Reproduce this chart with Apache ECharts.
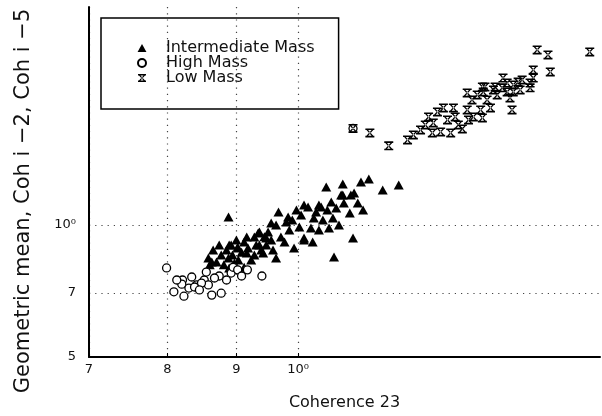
<!DOCTYPE html>
<html>
<head>
<meta charset="utf-8">
<script src="https://cdn.jsdelivr.net/npm/echarts@6/dist/echarts.min.js"></script>
<style>
  html, body { margin: 0; padding: 0; background: #fff; }
  #chart { width: 602px; height: 416px; }
</style>
</head>
<body>
<div id="chart"></div>
<script>
// values, both axes logarithmic
const xTicks = [0.7, 0.8, 0.9, 1.0]
const xTickLabels = ['7', '8', '9', '10⁰']
const yTicks = [0.5, 0.7, 1.0]
const yTickLabels = ['5', '7', '10⁰']
const xRange = [0.7, 1.673]
const yRange = [0.5, 3.14]

const intermediateMass = [
  [0.888, 1.043], [0.858, 0.841], [0.860, 0.811], [0.888, 0.841], [0.892, 0.900],
  [0.902, 0.891], [0.912, 0.914], [0.916, 0.863], [0.923, 0.832], [0.934, 0.959],
  [0.944, 0.940], [0.955, 1.010], [0.967, 1.071], [0.983, 1.043], [0.997, 1.082],
  [1.010, 1.111], [1.017, 1.099], [1.036, 1.111], [1.049, 1.221], [1.079, 1.240],
  [1.113, 1.253], [1.128, 1.273], [1.155, 1.202], [1.187, 1.234], [1.100, 1.183],
  [1.079, 1.171], [1.058, 1.128], [1.107, 1.122], [1.117, 1.082], [1.081, 1.122],
  [1.061, 1.037], [1.043, 1.026], [1.027, 1.037], [1.022, 0.984], [1.002, 0.990],
  [0.985, 0.974], [0.971, 0.939], [0.955, 0.924], [0.928, 0.939], [0.950, 0.964],
  [0.936, 0.964], [0.889, 0.900], [0.902, 0.886], [1.098, 0.934], [1.063, 0.845],
  [1.025, 0.915], [1.010, 0.934], [0.993, 0.886], [0.958, 0.877], [0.942, 0.863],
  [1.076, 1.171], [1.094, 1.171], [1.040, 1.099], [1.010, 0.924], [0.939, 0.877],
  [0.897, 0.819], [0.912, 0.801], [0.903, 0.832], [0.980, 1.016], [0.990, 1.026],
  [1.005, 1.054], [1.031, 1.071], [1.051, 1.082], [1.067, 1.093], [1.092, 1.065],
  [1.072, 1.000], [1.054, 0.984], [1.036, 0.974], [0.963, 1.000], [0.947, 0.900],
  [0.977, 0.914], [0.963, 0.841], [0.931, 0.900], [0.877, 0.854], [0.870, 0.823],
  [0.881, 0.811], [0.865, 0.877], [0.874, 0.900], [0.885, 0.877], [0.894, 0.854],
  [0.908, 0.866], [0.918, 0.886], [0.928, 0.854], [0.936, 0.900], [0.947, 0.934],
  [0.916, 0.939], [0.900, 0.924], [0.863, 0.823], [0.889, 0.798]
]

const highMass = [
  [0.799, 0.798], [0.821, 0.749], [0.834, 0.761], [0.820, 0.733], [0.809, 0.704],
  [0.823, 0.688], [0.830, 0.718], [0.841, 0.730], [0.852, 0.749], [0.855, 0.781],
  [0.858, 0.730], [0.863, 0.692], [0.877, 0.699], [0.874, 0.765], [0.885, 0.749],
  [0.892, 0.777], [0.895, 0.801], [0.902, 0.790], [0.917, 0.790], [0.940, 0.765],
  [0.848, 0.737], [0.838, 0.722], [0.813, 0.749], [0.867, 0.757], [0.845, 0.711],
  [0.908, 0.765], [1.098, 1.660]
]

const lowMass = [
  [1.098, 1.660], [1.130, 1.621], [1.167, 1.515], [1.205, 1.563], [1.217, 1.604],
  [1.257, 1.621], [1.275, 1.630], [1.297, 1.621], [1.323, 1.656], [1.259, 1.709],
  [1.249, 1.763], [1.268, 1.810], [1.281, 1.849], [1.303, 1.849], [1.307, 1.763],
  [1.290, 1.736], [1.334, 1.829], [1.337, 1.736], [1.348, 1.763], [1.369, 1.754],
  [1.365, 1.829], [1.334, 2.000], [1.345, 1.928], [1.357, 1.979], [1.371, 2.010],
  [1.375, 2.064], [1.380, 1.928], [1.388, 1.849], [1.404, 1.979], [1.399, 2.064],
  [1.418, 2.163], [1.416, 2.054], [1.428, 2.010], [1.435, 1.948], [1.440, 1.829],
  [1.443, 2.086], [1.455, 2.118], [1.465, 2.141], [1.460, 2.032], [1.443, 2.010],
  [1.485, 2.107], [1.485, 2.054], [1.493, 2.257], [1.493, 2.163], [1.503, 2.506],
  [1.531, 2.442], [1.537, 2.233], [1.644, 2.480], [1.369, 2.064], [1.395, 2.032],
  [1.428, 2.107], [1.242, 1.691], [1.232, 1.647], [1.314, 1.691]
]

const log = (v) => Math.log10(v)
const toLog = (pts) => pts.map((p) => [log(p[0]), log(p[1])])
const tickLabel = (ticks, labels) => (value) => {
  let best = 0
  ticks.forEach((t, i) => {
    if (Math.abs(log(t) - value) < Math.abs(log(ticks[best]) - value)) best = i
  })
  return labels[best]
}

// path symbols keep their aspect inside the legend slot
const trianglePath = 'path://M5 0L10 9H0Z'
// x with bars top and bottom, like the old plotter symbol
const starPath = 'path://M0 0H10V1.8H0Z M0 8.2H10V10H0Z M1.2 1.8L3.1 1.8L8.8 8.2L6.9 8.2Z M8.8 1.8L6.9 1.8L1.2 8.2L3.1 8.2Z'

const font = 'DejaVu Sans'
const gridLine = { show: true, lineStyle: { color: '#444', width: 1.2, type: [1.2, 5] } }

const chart = echarts.init(document.getElementById('chart'))
chart.setOption({
  backgroundColor: '#fff',
  animation: false,
  grid: { left: 89, right: 2, top: 7, bottom: 59 },
  legend: {
    orient: 'vertical',
    left: 101,
    top: 18,
    padding: [22, 24, 23, 36],
    itemWidth: 38,
    itemHeight: 8,
    itemGap: -1,
    borderColor: '#000',
    borderWidth: 1.5,
    selectedMode: false,
    textStyle: { fontFamily: font, fontSize: 16, color: '#111', lineHeight: 14 },
    data: ['Intermediate Mass', 'High Mass', 'Low Mass']
  },
  xAxis: {
    type: 'value',
    min: log(xRange[0]),
    max: log(xRange[1]),
    name: 'Coherence 23',
    nameLocation: 'middle',
    nameGap: 38,
    nameTextStyle: { fontFamily: font, fontSize: 16, color: '#111' },
    axisLine: { show: true, onZero: false, lineStyle: { color: '#000', width: 2 } },
    axisTick: { show: true, inside: true, length: 4, customValues: xTicks.map(log), lineStyle: { color: '#000' } },
    axisLabel: {
      customValues: xTicks.map(log),
      formatter: tickLabel(xTicks, xTickLabels),
      margin: 6,
      fontFamily: font,
      fontSize: 13,
      color: '#111'
    },
    splitLine: gridLine
  },
  yAxis: {
    type: 'value',
    min: log(yRange[0]),
    max: log(yRange[1]),
    name: 'Geometric mean, Coh i −2, Coh i −5',
    nameLocation: 'middle',
    nameGap: 55,
    nameTextStyle: { fontFamily: font, fontSize: 21, color: '#111', padding: [0, 38, 0, 0] },
    axisLine: { show: true, onZero: false, lineStyle: { color: '#000', width: 2 } },
    axisTick: { show: false, customValues: yTicks.map(log) },
    axisLabel: {
      customValues: yTicks.map(log),
      formatter: tickLabel(yTicks, yTickLabels),
      margin: 13,
      fontFamily: font,
      fontSize: 13,
      color: '#111'
    },
    splitLine: gridLine
  },
  series: [
    {
      name: 'Intermediate Mass',
      type: 'scatter',
      symbol: trianglePath,
      symbolSize: [10, 9],
      itemStyle: { color: '#000', opacity: 1 },
      data: toLog(intermediateMass)
    },
    {
      name: 'High Mass',
      type: 'scatter',
      symbol: 'circle',
      symbolSize: 8,
      itemStyle: { color: '#fff', borderColor: '#000', borderWidth: 1.3, opacity: 1 },
      data: toLog(highMass)
    },
    {
      name: 'Low Mass',
      type: 'scatter',
      symbol: starPath,
      symbolSize: 9,
      itemStyle: { color: '#000', opacity: 1 },
      data: toLog(lowMass)
    }
  ]
})
</script>
</body>
</html>
